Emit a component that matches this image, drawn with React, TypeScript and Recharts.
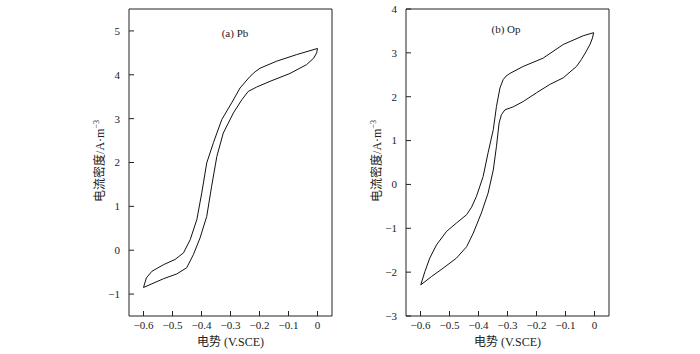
import { LineChart, Line, XAxis, YAxis, ReferenceArea, Customized } from 'recharts';

const potentialTicks = [-0.6, -0.5, -0.4, -0.3, -0.2, -0.1, 0];
const currentTicksPb = [-1, 0, 1, 2, 3, 4, 5];
const currentTicksOp = [-3, -2, -1, 0, 1, 2, 3, 4];

// (a) Pb loop: upper branch from -0.6 V to 0 V, then lower branch back
const potentialPb = [
  -0.6, -0.59, -0.571, -0.531, -0.491, -0.462, -0.439, -0.416, -0.399, -0.382, -0.359, -0.33, -0.296,
  -0.267, -0.233, -0.215, -0.198, -0.141, -0.072, 0,
  -0.003, -0.013, -0.038, -0.095, -0.164, -0.21, -0.239, -0.261, -0.29, -0.325, -0.347, -0.365, -0.382,
  -0.405, -0.428, -0.451, -0.485, -0.531, -0.6,
];
const currentPb = [
  -0.85, -0.63, -0.48, -0.33, -0.21, -0.06, 0.24, 0.7, 1.31, 1.99, 2.45, 2.98, 3.36,
  3.7, 3.96, 4.07, 4.15, 4.31, 4.46, 4.6,
  4.5, 4.38, 4.23, 4.03, 3.85, 3.72, 3.62, 3.43, 3.13, 2.67, 2.14, 1.46, 0.77,
  0.28, -0.1, -0.4, -0.54, -0.65, -0.85,
];

// (b) Op loop
const potentialOp = [
  -0.599, -0.585, -0.568, -0.545, -0.51, -0.476, -0.441, -0.424, -0.407, -0.384, -0.367, -0.349, -0.338,
  -0.326, -0.315, -0.305, -0.292, -0.246, -0.177, -0.108, -0.039, -0.003,
  -0.007, -0.015, -0.028, -0.045, -0.062, -0.108, -0.154, -0.2, -0.246, -0.28, -0.309, -0.321, -0.329, -0.338, -0.349,
  -0.367, -0.39, -0.418, -0.441, -0.476, -0.522, -0.562, -0.599,
];
const currentOp = [
  -2.29, -1.99, -1.68, -1.38, -1.07, -0.88, -0.69, -0.52, -0.27, 0.18, 0.72, 1.25, 1.78,
  2.2, 2.39, 2.47, 2.53, 2.69, 2.88, 3.19, 3.39, 3.46,
  3.34, 3.2, 3.04, 2.85, 2.69, 2.43, 2.28, 2.09, 1.89, 1.77, 1.7, 1.59, 1.4, 0.87, 0.33,
  -0.2, -0.65, -1.11, -1.42, -1.68, -1.91, -2.1, -2.29,
];

const FONT = "'Liberation Serif', 'Times New Roman', 'DejaVu Serif', 'Noto Sans CJK SC', serif";
const INK = '#222';
const txt = { fontFamily: FONT, fill: INK };
const tickStyle = { fontSize: 11, fontFamily: FONT, fill: INK };

const fmt = (v: number) => (v === 0 ? '0' : String(v).replace('-', '\u2212'));

interface PanelProps {
  potential: number[];
  current: number[];
  yTicks: number[];
  yDomain: [number, number];
  title: string;
  left: number;
  axisWidth: number;
  marginRight: number;
  labelX: number;
  titleX: number;
  titleY: number;
}

function Panel({ potential, current, yTicks, yDomain, title, left, axisWidth, marginRight, labelX, titleX, titleY }: PanelProps) {
  const data = potential.map((x, i) => ({ x, y: current[i] }));
  const midX = (axisWidth + 350 - marginRight) / 2;
  return (
    <div style={{ position: 'absolute', left, top: 0 }}>
      <LineChart width={350} height={354} data={data} margin={{ top: 9, right: marginRight, bottom: 0, left: 0 }}>
        <XAxis
          type="number"
          dataKey="x"
          domain={[-0.65, 0.05]}
          ticks={potentialTicks}
          interval={0}
          allowDataOverflow
          height={38}
          axisLine={false}
          tickLine={{ stroke: INK }}
          tickSize={-5}
          tickMargin={10}
          tick={tickStyle}
          tickFormatter={fmt}
        />
        <YAxis
          type="number"
          domain={yDomain}
          ticks={yTicks}
          interval={0}
          allowDataOverflow
          width={axisWidth}
          axisLine={false}
          tickLine={{ stroke: INK }}
          tickSize={-5}
          tickMargin={14}
          tick={tickStyle}
          tickFormatter={fmt}
        />
        <ReferenceArea
          x1={-0.65}
          x2={0.05}
          y1={yDomain[0]}
          y2={yDomain[1]}
          fill="none"
          stroke={INK}
          strokeWidth={1}
          ifOverflow="visible"
        />
        <Line
          type="linear"
          dataKey="y"
          stroke="#111"
          strokeWidth={1}
          dot={false}
          isAnimationActive={false}
        />
        <Customized
          component={() => (
            <g>
              <text x={titleX} y={titleY + 4} textAnchor="middle" style={{ ...txt, fontSize: 11 }}>
                {title}
              </text>
              <text x={midX} y={346} textAnchor="middle" style={{ ...txt, fontSize: 12 }}>
                电势 (V.SCE)
              </text>
              <text
                x={labelX}
                y={165}
                textAnchor="middle"
                transform={`rotate(-90 ${labelX} 161)`}
                style={{ ...txt, fontSize: 12 }}
              >
                <tspan>电流密度/A·m</tspan>
                <tspan dy={-5} style={{ fontSize: 8 }}>−3</tspan>
              </text>
            </g>
          )}
        />
      </LineChart>
    </div>
  );
}

export default function App() {
  return (
    <div style={{ position: 'absolute', left: 0, top: 0, width: 700, height: 354, background: '#fff' }}>
      <Panel
        potential={potentialPb}
        current={currentPb}
        yTicks={currentTicksPb}
        yDomain={[-1.5, 5.5]}
        title="(a) Pb"
        left={0}
        axisWidth={129}
        marginRight={18}
        labelX={100}
        titleX={235}
        titleY={33}
      />
      <Panel
        potential={potentialOp}
        current={currentOp}
        yTicks={currentTicksOp}
        yDomain={[-3, 4]}
        title="(b) Op"
        left={350}
        axisWidth={56}
        marginRight={91}
        labelX={27}
        titleX={156}
        titleY={29}
      />
    </div>
  );
}
